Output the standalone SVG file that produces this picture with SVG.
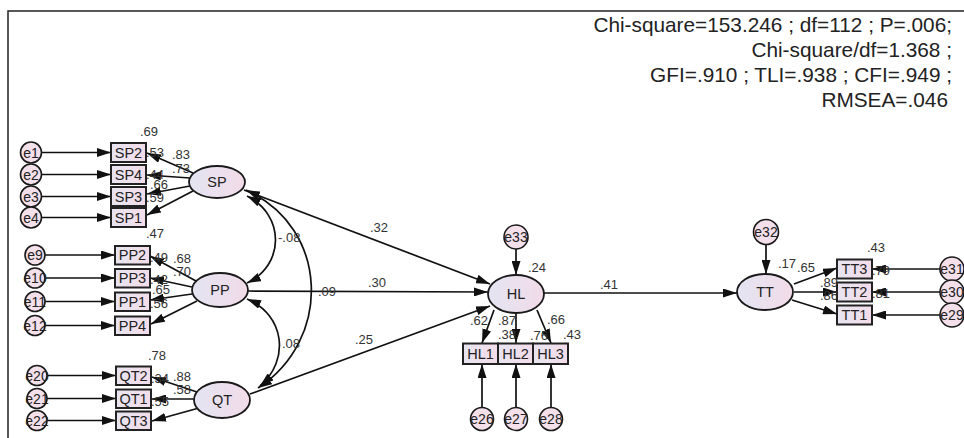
<svg xmlns="http://www.w3.org/2000/svg" width="964" height="438" viewBox="0 0 964 438">
<defs>
<linearGradient id="gEll" x1="0" y1="0" x2="1" y2="0">
<stop offset="0" stop-color="#e4e4f2"/><stop offset="1" stop-color="#f2dbe8"/>
</linearGradient>
<linearGradient id="gBox" x1="0" y1="0" x2="1" y2="0">
<stop offset="0" stop-color="#e8e4f1"/><stop offset="1" stop-color="#f3dde9"/>
</linearGradient>
<marker id="ah" viewBox="0 0 14 9" refX="14" refY="4.5" markerWidth="14" markerHeight="9" markerUnits="userSpaceOnUse" orient="auto-start-reverse">
<path d="M0,0 L14,4.5 L0,9 z" fill="#111"/>
</marker>
<style>
.box{fill:url(#gBox);stroke:#222;stroke-width:2}
.ell{fill:url(#gEll);stroke:#1a1a1a;stroke-width:1.8}
.err{fill:#f3e0ea;stroke:#1a1a1a;stroke-width:1.6}
.t{font-family:"Liberation Sans",Arial,sans-serif;font-size:14.5px;fill:#222;text-anchor:middle}
.te{font-family:"Liberation Sans",Arial,sans-serif;font-size:14px;fill:#222;text-anchor:middle}
.n{font-family:"Liberation Sans",Arial,sans-serif;font-size:13px;fill:#333}
.fit{font-family:"Liberation Sans",Arial,sans-serif;font-size:20.8px;fill:#222;text-anchor:end}
.a{fill:none;stroke:#111;stroke-width:1.7;marker-end:url(#ah)}
.b{fill:none;stroke:#111;stroke-width:1.7;marker-start:url(#ah);marker-end:url(#ah)}
.frame{fill:none;stroke:#222;stroke-width:1.5}
</style>
</defs>
<rect x="0" y="0" width="964" height="438" fill="#fff"/>
<path class="frame" d="M8,438 L8,11 L964,11"/>

<g id="fit">
<text class="fit" x="952" y="32">Chi-square=153.246 ; df=112 ; P=.006;</text>
<text class="fit" x="952" y="57">Chi-square/df=1.368 ;</text>
<text class="fit" x="952" y="82">GFI=.910 ; TLI=.938 ; CFI=.949 ;</text>
<text class="fit" x="948" y="107">RMSEA=.046</text>
</g>

<g id="connectors">
<line class="a" x1="41.5" y1="152.5" x2="111" y2="152.5"/>
<line class="a" x1="41.5" y1="174.5" x2="111" y2="174.5"/>
<line class="a" x1="41.5" y1="196.5" x2="111" y2="196.5"/>
<line class="a" x1="41.5" y1="217.5" x2="111" y2="217.5"/>
<line class="a" x1="193" y1="173" x2="147" y2="153"/>
<line class="a" x1="190" y1="178" x2="147" y2="175"/>
<line class="a" x1="190" y1="186" x2="147" y2="194"/>
<line class="a" x1="193" y1="191" x2="147" y2="215"/>
<line class="a" x1="45" y1="255" x2="115" y2="255"/>
<line class="a" x1="45" y1="278" x2="115" y2="278"/>
<line class="a" x1="45" y1="301.5" x2="115" y2="301.5"/>
<line class="a" x1="45" y1="325.5" x2="115" y2="325.5"/>
<line class="a" x1="196" y1="281" x2="150" y2="256"/>
<line class="a" x1="192" y1="287" x2="150" y2="278"/>
<line class="a" x1="192" y1="294" x2="150" y2="300"/>
<line class="a" x1="197" y1="301" x2="151" y2="324"/>
<line class="a" x1="47" y1="375.5" x2="116" y2="375.5"/>
<line class="a" x1="47" y1="398.5" x2="116" y2="398.5"/>
<line class="a" x1="47" y1="420.5" x2="116" y2="420.5"/>
<line class="a" x1="197" y1="392" x2="152" y2="377"/>
<line class="a" x1="194" y1="399" x2="152" y2="399"/>
<line class="a" x1="199" y1="408" x2="152" y2="421"/>
<path class="b" d="M247,196 C285,215 285,265 247,283"/>
<path class="b" d="M246,190 C330,228 332,340 258,388"/>
<path class="b" d="M247,299 C285,315 290,360 260,386"/>
<line class="a" x1="244" y1="190" x2="490" y2="284"/>
<line class="a" x1="248" y1="291" x2="488" y2="292"/>
<line class="a" x1="250" y1="394" x2="490" y2="306"/>
<line class="a" x1="544" y1="293" x2="737" y2="293"/>
<line class="a" x1="516" y1="249" x2="516" y2="275"/>
<line class="a" x1="494" y1="310" x2="482" y2="343"/>
<line class="a" x1="516" y1="313" x2="516" y2="343"/>
<line class="a" x1="537" y1="310" x2="551" y2="343"/>
<line class="a" x1="482" y1="407" x2="482" y2="364"/>
<line class="a" x1="516" y1="407" x2="516" y2="364"/>
<line class="a" x1="551" y1="407" x2="551" y2="364"/>
<line class="a" x1="766" y1="244" x2="766" y2="274"/>
<line class="a" x1="794" y1="284" x2="837" y2="268"/>
<line class="a" x1="794" y1="292" x2="837" y2="292"/>
<line class="a" x1="792" y1="300" x2="837" y2="314"/>
<line class="a" x1="940" y1="269" x2="872" y2="269"/>
<line class="a" x1="940" y1="292" x2="872" y2="292"/>
<line class="a" x1="940" y1="315" x2="872" y2="315"/>
</g>

<g id="SP"><ellipse class="ell" cx="217" cy="182" rx="28" ry="16"/><text class="t" x="217" y="187">SP</text></g>
<g id="PP"><ellipse class="ell" cx="220" cy="290" rx="28" ry="17"/><text class="t" x="220" y="295">PP</text></g>
<g id="QT"><ellipse class="ell" cx="222" cy="400" rx="28" ry="18"/><text class="t" x="222" y="405">QT</text></g>
<g id="HL"><ellipse class="ell" cx="516" cy="294" rx="28" ry="19"/><text class="t" x="516" y="299">HL</text></g>
<g id="TT"><ellipse class="ell" cx="765" cy="292" rx="28" ry="18"/><text class="t" x="765" y="297">TT</text></g>

<g id="SP2"><rect class="box" x="111" y="143" width="35" height="19"/><text class="t" x="128.5" y="157.5">SP2</text></g>
<g id="SP4"><rect class="box" x="111" y="165" width="35" height="19"/><text class="t" x="128.5" y="179.5">SP4</text></g>
<g id="SP3"><rect class="box" x="111" y="187" width="35" height="19"/><text class="t" x="128.5" y="201.5">SP3</text></g>
<g id="SP1"><rect class="box" x="111" y="208" width="35" height="19"/><text class="t" x="128.5" y="222.5">SP1</text></g>
<g id="PP2"><rect class="box" x="115" y="246" width="35" height="18.5"/><text class="t" x="132.5" y="260">PP2</text></g>
<g id="PP3"><rect class="box" x="115" y="269" width="35" height="18.5"/><text class="t" x="132.5" y="283">PP3</text></g>
<g id="PP1"><rect class="box" x="115" y="292.5" width="35" height="18.5"/><text class="t" x="132.5" y="306.5">PP1</text></g>
<g id="PP4"><rect class="box" x="115" y="316.5" width="35" height="18.5"/><text class="t" x="132.5" y="330.5">PP4</text></g>
<g id="QT2"><rect class="box" x="116" y="366.5" width="35" height="18.5"/><text class="t" x="133.5" y="380.5">QT2</text></g>
<g id="QT1"><rect class="box" x="116" y="389.5" width="35" height="18.5"/><text class="t" x="133.5" y="403.5">QT1</text></g>
<g id="QT3"><rect class="box" x="116" y="411.5" width="35" height="18.5"/><text class="t" x="133.5" y="425.5">QT3</text></g>
<g id="HL1"><rect class="box" x="463" y="343.5" width="35" height="20.5"/><text class="t" x="480.5" y="358.5">HL1</text></g>
<g id="HL2"><rect class="box" x="498" y="343.5" width="35" height="20.5"/><text class="t" x="515.5" y="358.5">HL2</text></g>
<g id="HL3"><rect class="box" x="533" y="343.5" width="35" height="20.5"/><text class="t" x="550.5" y="358.5">HL3</text></g>
<g id="TT3"><rect class="box" x="837" y="259.5" width="35" height="19"/><text class="t" x="854.5" y="274">TT3</text></g>
<g id="TT2"><rect class="box" x="837" y="282.5" width="35" height="19"/><text class="t" x="854.5" y="297">TT2</text></g>
<g id="TT1"><rect class="box" x="837" y="305.5" width="35" height="19"/><text class="t" x="854.5" y="320">TT1</text></g>

<g id="e1"><circle class="err" cx="31" cy="152.5" r="10.5"/><text class="te" x="31" y="157.5">e1</text></g>
<g id="e2"><circle class="err" cx="31" cy="174.5" r="10.5"/><text class="te" x="31" y="179.5">e2</text></g>
<g id="e3"><circle class="err" cx="31" cy="196.5" r="10.5"/><text class="te" x="31" y="201.5">e3</text></g>
<g id="e4"><circle class="err" cx="31" cy="217.5" r="10.5"/><text class="te" x="31" y="222.5">e4</text></g>
<g id="e9"><circle class="err" cx="35" cy="255" r="10"/><text class="te" x="35" y="260">e9</text></g>
<g id="e10"><circle class="err" cx="35" cy="278" r="10"/><text class="te" x="35" y="283">e10</text></g>
<g id="e11"><circle class="err" cx="35" cy="301.5" r="10"/><text class="te" x="35" y="306.5">e11</text></g>
<g id="e12"><circle class="err" cx="35" cy="325.5" r="10"/><text class="te" x="35" y="330.5">e12</text></g>
<g id="e20"><circle class="err" cx="37" cy="375.5" r="10"/><text class="te" x="37" y="380.5">e20</text></g>
<g id="e21"><circle class="err" cx="37" cy="398.5" r="10"/><text class="te" x="37" y="403.5">e21</text></g>
<g id="e22"><circle class="err" cx="37" cy="420.5" r="10"/><text class="te" x="37" y="425.5">e22</text></g>
<g id="e33"><circle class="err" cx="516" cy="237" r="12"/><text class="te" x="516" y="242">e33</text></g>
<g id="e26"><circle class="err" cx="482" cy="419" r="11.5"/><text class="te" x="482" y="424">e26</text></g>
<g id="e27"><circle class="err" cx="516" cy="419" r="11.5"/><text class="te" x="516" y="424">e27</text></g>
<g id="e28"><circle class="err" cx="551" cy="419" r="11.5"/><text class="te" x="551" y="424">e28</text></g>
<g id="e32"><circle class="err" cx="766" cy="232" r="12.5"/><text class="te" x="766" y="237">e32</text></g>
<g id="e31"><circle class="err" cx="952" cy="269" r="12"/><text class="te" x="952" y="274">e31</text></g>
<g id="e30"><circle class="err" cx="952" cy="292" r="12"/><text class="te" x="952" y="297">e30</text></g>
<g id="e29"><circle class="err" cx="952" cy="315" r="12"/><text class="te" x="952" y="320">e29</text></g>

<g id="labels">
<text class="n" x="140" y="136">.69</text>
<text class="n" x="146" y="157">.53</text>
<text class="n" x="172" y="159">.83</text>
<text class="n" x="172" y="173">.73</text>
<text class="n" x="146" y="179">.44</text>
<text class="n" x="150" y="189">.66</text>
<text class="n" x="146" y="202">.59</text>
<text class="n" x="146" y="238">.47</text>
<text class="n" x="150" y="262">.49</text>
<text class="n" x="173" y="263">.68</text>
<text class="n" x="173" y="276">.70</text>
<text class="n" x="150" y="284">.42</text>
<text class="n" x="152" y="294">.65</text>
<text class="n" x="150" y="308">.56</text>
<text class="n" x="148" y="360">.78</text>
<text class="n" x="151" y="383">.34</text>
<text class="n" x="173" y="381">.88</text>
<text class="n" x="173" y="394">.58</text>
<text class="n" x="151" y="406">.55</text>
<text class="n" x="278" y="242">-.08</text>
<text class="n" x="318" y="296">.09</text>
<text class="n" x="282" y="348">.08</text>
<text class="n" x="370" y="232">.32</text>
<text class="n" x="368" y="287">.30</text>
<text class="n" x="355" y="344">.25</text>
<text class="n" x="600" y="289">.41</text>
<text class="n" x="528" y="272">.24</text>
<text class="n" x="470" y="325">.62</text>
<text class="n" x="498" y="325">.87</text>
<text class="n" x="498" y="339">.38</text>
<text class="n" x="530" y="340">.76</text>
<text class="n" x="547" y="324">.66</text>
<text class="n" x="563" y="339">.43</text>
<text class="n" x="778" y="268">.17</text>
<text class="n" x="797" y="272">.65</text>
<text class="n" x="867" y="252">.43</text>
<text class="n" x="872" y="275">.79</text>
<text class="n" x="820" y="287">.89</text>
<text class="n" x="872" y="298">.81</text>
<text class="n" x="820" y="300">.86</text>
</g>
</svg>
